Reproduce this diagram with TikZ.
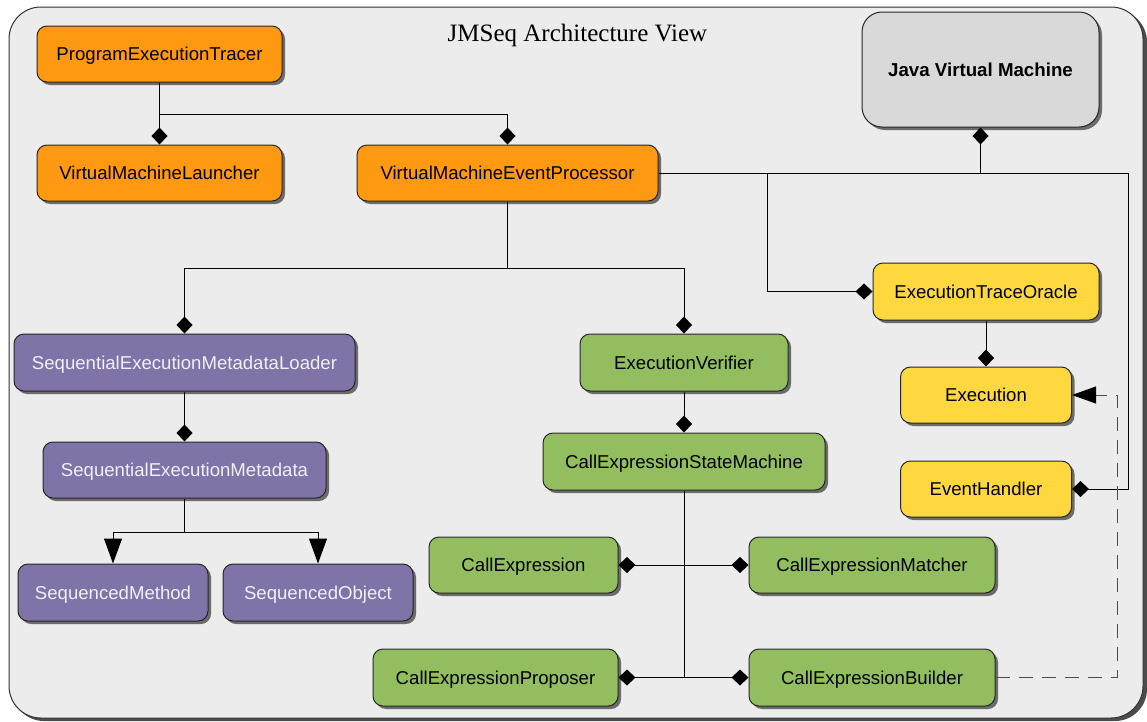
\documentclass[tikz,border=0pt]{standalone}
\usepackage{fontspec}
\setmainfont{Liberation Serif}
\setsansfont{Liberation Sans}
\usetikzlibrary{arrows.meta,shadows}
\definecolor{bgc}{RGB}{236,236,236}
\definecolor{orangec}{RGB}{255,153,18}
\definecolor{yellowc}{RGB}{255,216,64}
\definecolor{greenc}{RGB}{147,190,95}
\definecolor{purplec}{RGB}{127,115,167}
\definecolor{grayc}{RGB}{217,217,217}
\definecolor{lighttext}{RGB}{240,240,246}
\tikzset{
  box/.style={rectangle, rounded corners=10pt, draw=black!85, line width=1pt,
    drop shadow={shadow xshift=3pt, shadow yshift=-3pt, fill=black!70, opacity=0.8},
    font=\sffamily\fontsize{18.6}{21}\selectfont, inner sep=0pt, align=center,
    text height=13.3pt, text depth=0pt},
  orangebox/.style={box, fill=orangec, text=black},
  yellowbox/.style={box, fill=yellowc, text=black},
  greenbox/.style={box, fill=greenc, text=black},
  purplebox/.style={box, fill=purplec, text=lighttext},
  graybox/.style={box, fill=grayc, rounded corners=20pt, font=\sffamily\bfseries\fontsize{18.7}{21}\selectfont},
  conn/.style={draw=black, line width=1pt},
  comp/.style={conn, -{Diamond[length=17pt,width=16pt]}},
  bicomp/.style={conn, {Diamond[length=17pt,width=16pt]}-{Diamond[length=17pt,width=16pt]}},
  gen/.style={conn, -{Triangle[length=25pt,width=18pt]}},
  dep/.style={draw=black!70, line width=1pt, dash pattern=on 14pt off 9pt, -{Triangle[length=24pt,width=17pt,color=black]}}
}
\begin{document}
\begin{tikzpicture}[x=1pt,y=-1pt]
\useasboundingbox (0,0) rectangle (1147,721);
\fill[white] (0,0) rectangle (1147,721);
% frame
\fill[black!70] (12,10) [rounded corners=32pt] rectangle (1147,721);
\draw[fill=bgc, draw=black!80, line width=1pt, rounded corners=32pt] (9,7) rectangle (1143,718);
% title
\node[font=\fontsize{25}{28}\selectfont] (title) at (577.5,35) {JMSeq Architecture View};
% nodes
\node[orangebox, minimum width=245pt, minimum height=56pt] (pet) at (159.5,54) {ProgramExecutionTracer};
\node[orangebox, minimum width=245pt, minimum height=56pt] (vml) at (159.5,173) {VirtualMachineLauncher};
\node[orangebox, minimum width=301pt, minimum height=56pt] (vmep) at (507.5,173) {VirtualMachineEventProcessor};
\node[graybox, minimum width=237pt, minimum height=115pt] (jvm) at (980.5,69.5) {Java Virtual Machine};
\node[yellowbox, minimum width=226pt, minimum height=57pt] (eto) at (986,291.5) {ExecutionTraceOracle};
\node[yellowbox, minimum width=171pt, minimum height=56pt] (exe) at (986,395) {Execution};
\node[yellowbox, minimum width=171pt, minimum height=56pt] (evh) at (986,489) {EventHandler};
\node[purplebox, minimum width=341pt, minimum height=57pt] (seml) at (184.5,362.5) {SequentialExecutionMetadataLoader};
\node[purplebox, minimum width=283pt, minimum height=56pt] (sem) at (184.5,470) {SequentialExecutionMetadata};
\node[purplebox, minimum width=190pt, minimum height=57pt] (sm) at (113,592.5) {SequencedMethod};
\node[purplebox, minimum width=190pt, minimum height=57pt] (so) at (318,592.5) {SequencedObject};
\node[greenbox, minimum width=208pt, minimum height=57pt] (ev) at (684,362.5) {ExecutionVerifier};
\node[greenbox, minimum width=282pt, minimum height=57pt] (cesm) at (684,461.5) {CallExpressionStateMachine};
\node[greenbox, minimum width=189pt, minimum height=56pt] (ce) at (523.5,565) {CallExpression};
\node[greenbox, minimum width=246pt, minimum height=56pt] (cem) at (872,565) {CallExpressionMatcher};
\node[greenbox, minimum width=245pt, minimum height=57pt] (cep) at (495.5,677.5) {CallExpressionProposer};
\node[greenbox, minimum width=246pt, minimum height=57pt] (ceb) at (872,677.5) {CallExpressionBuilder};
% junction coordinates
\coordinate (j1) at (159.5,114);
\coordinate (j2) at (980.5,173);
\coordinate (j3) at (767,173);
\coordinate (r1) at (1128,173);
\coordinate (j4) at (507.5,268);
\coordinate (j6) at (184.5,532);
\coordinate (j5) at (684,677.5);
\coordinate (d1) at (1117,677.5);
\coordinate (d2) at (1117,395);
% connectors
\draw[comp] (pet.south) -- (vml.north);
\draw[comp] (j1) -| (vmep.north);
\draw[conn] (vmep.east) -- (r1);
\draw[comp] (r1) |- (evh.east);
\draw[comp] (j2) -- (jvm.south);
\draw[comp] (j3) |- (eto.west);
\draw[conn] (vmep.south) -- (j4);
\draw[comp] (j4) -| (seml.north);
\draw[comp] (j4) -| (ev.north);
\draw[comp] (seml.south) -- (sem.north);
\draw[conn] (sem.south) -- (j6);
\draw[gen] (j6) -| (sm.north);
\draw[gen] (j6) -| (so.north);
\draw[comp] (eto.south) -- (exe.north);
\draw[comp] (ev.south) -- (cesm.north);
\draw[conn] (cesm.south) -- (j5);
\draw[bicomp] (ce.east) -- (cem.west);
\draw[bicomp] (cep.east) -- (ceb.west);
\draw[dep] (ceb.east) -- (d1) -- (d2) -- (exe.east);
\end{tikzpicture}
\end{document}
